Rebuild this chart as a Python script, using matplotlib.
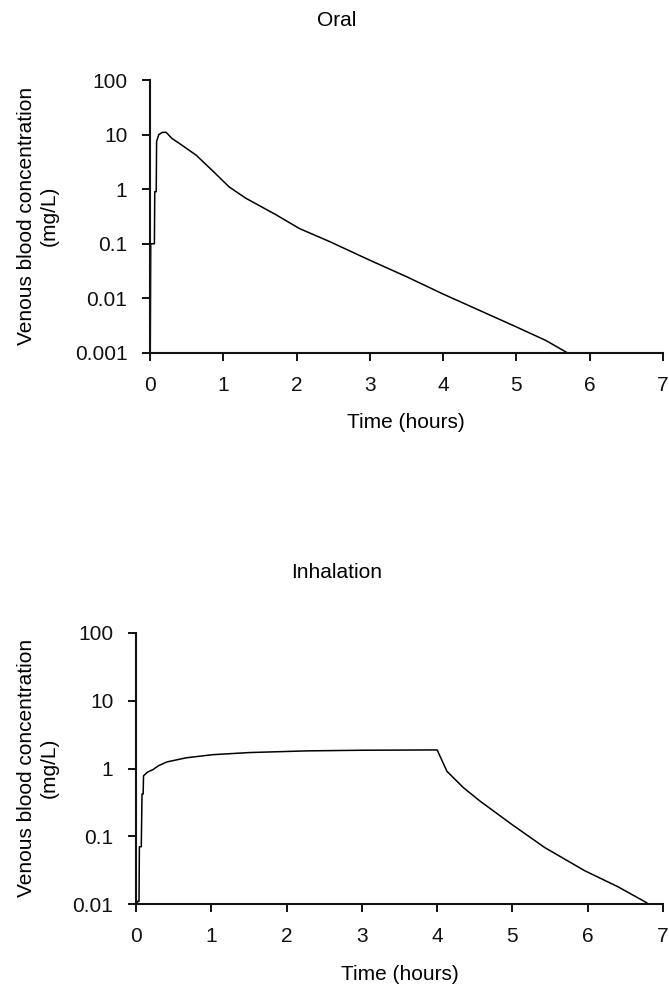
import matplotlib
matplotlib.use('Agg')
import matplotlib.pyplot as plt
from matplotlib.ticker import FixedLocator, FixedFormatter

plt.rcParams['font.family'] = ['Liberation Sans', 'DejaVu Sans']
plt.rcParams['font.size'] = 15

# oral exposure: time (h) and venous blood concentration (mg/L)
oral_time = [0.0, 0.01, 0.06, 0.065, 0.085, 0.09, 0.12, 0.17, 0.22, 0.3, 0.4,
             0.63, 0.85, 1.08, 1.31, 1.72, 2.04, 2.45, 3.0, 3.5, 4.0, 4.5,
             5.0, 5.4, 5.7, 5.75]
oral_conc = [0.0001, 0.1, 0.1, 0.9, 0.9, 7.5, 10.0, 11.0, 11.0, 8.5, 6.9,
             4.2, 2.2, 1.1, 0.68, 0.34, 0.19, 0.11, 0.05, 0.025, 0.012, 0.006,
             0.003, 0.0017, 0.001, 0.0009]

# inhalation exposure
inh_time = [0.0, 0.02, 0.04, 0.045, 0.07, 0.08, 0.095, 0.1, 0.15, 0.23, 0.3,
            0.41, 0.67, 1.02, 1.51, 2.27, 3.0, 4.0, 4.13, 4.35, 4.57, 4.99,
            5.43, 5.96, 6.4, 6.78, 6.85]
inh_conc = [0.001, 0.011, 0.011, 0.07, 0.07, 0.42, 0.42, 0.78, 0.88, 0.97, 1.1,
            1.25, 1.44, 1.6, 1.72, 1.82, 1.86, 1.88, 0.91, 0.52, 0.33, 0.15,
            0.068, 0.031, 0.018, 0.0105, 0.009]

x_ticks = [0, 1, 2, 3, 4, 5, 6, 7]
oral_yticks = [0.001, 0.01, 0.1, 1, 10, 100]
oral_ylabels = ['0.001', '0.01', '0.1', '1', '10', '100']
inh_yticks = [0.01, 0.1, 1, 10, 100]
inh_ylabels = ['0.01', '0.1', '1', '10', '100']

fig = plt.figure(figsize=(6.69, 9.86), dpi=100)
ax1 = fig.add_axes([150 / 669, 1 - 353 / 986, 513 / 669, 273 / 986])
ax2 = fig.add_axes([136 / 669, 1 - 904 / 986, 527 / 669, 271 / 986])


def style_axis(ax, yticks, ylabels, ylim):
    ax.set_yscale('log')
    ax.set_xlim(0, 7)
    ax.set_ylim(*ylim)
    ax.xaxis.set_major_locator(FixedLocator(x_ticks))
    ax.xaxis.set_major_formatter(FixedFormatter([str(t) for t in x_ticks]))
    ax.yaxis.set_major_locator(FixedLocator(yticks))
    ax.yaxis.set_major_formatter(FixedFormatter(ylabels))
    ax.yaxis.set_minor_locator(FixedLocator([]))
    for side in ['top', 'right']:
        ax.spines[side].set_visible(False)
    for side in ['left', 'bottom']:
        ax.spines[side].set_linewidth(1.5)
        ax.spines[side].set_color('#111111')
    ax.tick_params(axis='both', direction='out', length=5.8, width=1.4,
                   color='#111111', labelcolor='#111111')
    ax.tick_params(axis='x', pad=11)
    ax.tick_params(axis='y', pad=10.5)


ax1.plot(oral_time, oral_conc, color='black', lw=1.1)
style_axis(ax1, oral_yticks, oral_ylabels, (0.001, 100))

ax2.plot(inh_time, inh_conc, color='black', lw=1.1)
style_axis(ax2, inh_yticks, inh_ylabels, (0.01, 100))

ylab = 'Venous blood concentration\n(mg/L)'
fig.text(337 / 669, 1 - 20 / 986, 'Oral', ha='center', va='center')
fig.text(406 / 669, 1 - 413 / 986, 'Time (hours)', ha='center', va='top')
fig.text(38 / 669, 1 - 216 / 986, ylab, ha='center', va='center',
         rotation=90, multialignment='center', linespacing=1.2)

fig.text(337 / 669, 1 - 572 / 986, 'Inhalation', ha='center', va='center')
fig.text(400 / 669, 1 - 965 / 986, 'Time (hours)', ha='center', va='top')
fig.text(38 / 669, 1 - 768 / 986, ylab, ha='center', va='center',
         rotation=90, multialignment='center', linespacing=1.2)

fig.savefig('out.png', dpi=100)
